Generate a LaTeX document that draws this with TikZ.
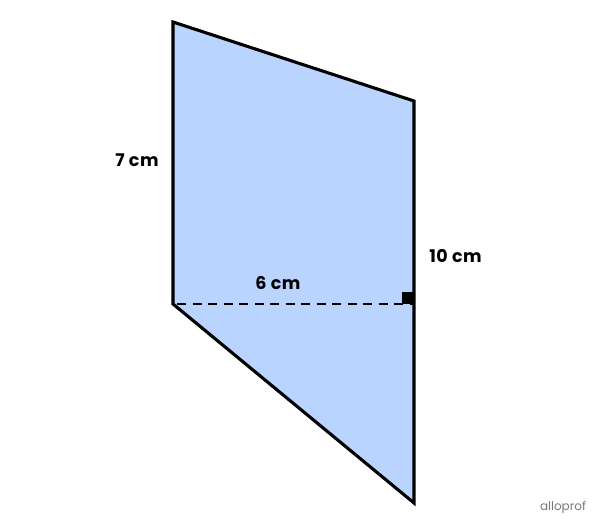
\documentclass[tikz,border=0pt]{standalone}
\usepackage{fontspec}
\setmainfont{Poppins}
\newfontfamily\lblfont[LetterSpace=3]{Poppins}
\begin{document}
\begin{tikzpicture}[x=1pt,y=-1pt,
  edge/.style={line width=3.1pt,line join=miter},
  lbl/.style={font=\lblfont\bfseries\fontsize{17.5}{20}\selectfont,text=black,inner sep=0pt},
  dash line/.style={line width=2.9pt,dash pattern=on 9pt off 6.5pt,dash phase=-4pt}]
\useasboundingbox (0,0) rectangle (600,527);
\coordinate (A) at (173,22);
\coordinate (B) at (414,101);
\coordinate (C) at (414,503);
\coordinate (D) at (173,304);
\coordinate (H) at (414,304);
\fill[fill={rgb,255:red,185;green,212;blue,255}] (A) -- (B) -- (C) -- (D) -- cycle;
\draw[dash line] (D) -- (H);
\fill[black] (402,292) rectangle (414,304);
\draw[edge] (A) -- (B) -- (C) -- (D) -- cycle;
\node[lbl] (l7) at (137,160.5) {7 cm};
\node[lbl] (l10) at (455.5,256) {10 cm};
\node[lbl] (l6) at (278,283) {6 cm};
\node[font=\fontsize{12}{14}\selectfont,text={rgb,255:red,120;green,120;blue,120}] (logo) at (563,507) {alloprof};
\end{tikzpicture}
\end{document}
